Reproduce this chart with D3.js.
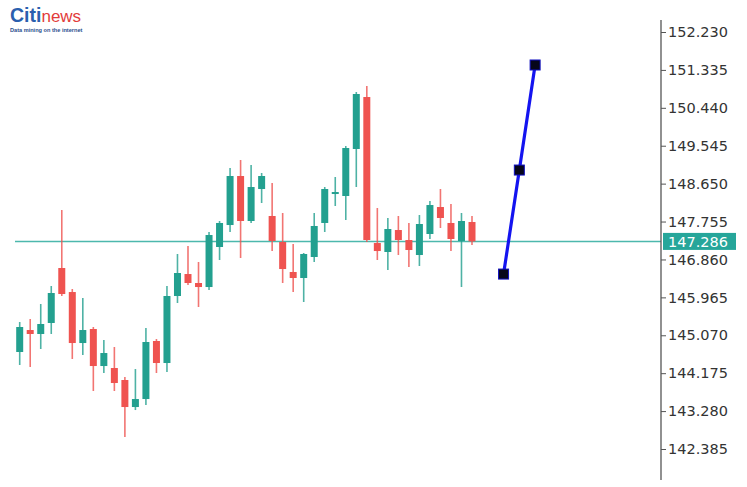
<!DOCTYPE html>
<html><head><meta charset="utf-8">
<script src="https://cdn.jsdelivr.net/npm/d3@7"></script>
<style>html,body{margin:0;padding:0;background:#fff;}svg{display:block;}</style>
</head><body>
<svg id="chart" width="747" height="487"></svg>
<script>
// Candle data (index order)
const opens  = [144.675,145.194,145.100,145.360,146.658,146.091,144.887,145.218,144.344,144.297,144.014,143.376,143.565,144.935,144.415,145.997,146.516,146.304,146.209,147.154,147.673,148.830,147.768,148.523,147.886,147.272,146.564,146.422,146.918,147.721,148.405,148.358,149.468,150.695,147.248,147.036,147.555,147.319,146.965,147.461,148.098,147.721,147.296,147.744];
const highs  = [145.383,145.454,145.808,146.233,148.027,146.162,145.950,145.265,144.958,144.793,144.085,144.273,145.241,144.982,146.233,146.989,147.177,146.800,147.508,147.768,149.019,149.208,149.090,148.901,148.665,147.957,147.225,147.012,147.957,148.570,148.807,149.538,150.813,150.955,148.075,147.839,147.886,147.721,147.909,148.240,148.523,148.169,147.957,147.886];
const lows   = [144.368,144.321,144.746,145.100,145.997,144.510,144.604,143.754,144.179,143.754,142.668,143.305,143.423,144.179,144.203,145.832,146.257,145.737,146.139,146.847,147.508,146.894,147.721,148.193,147.059,146.304,146.091,145.855,146.800,147.508,148.122,147.791,148.570,147.272,146.847,146.611,146.965,146.682,146.705,147.343,147.602,147.059,146.209,147.201];
const closes = [145.265,145.100,145.336,146.068,146.044,144.887,145.194,144.344,144.651,143.943,143.376,143.565,144.911,144.415,145.997,146.540,146.304,146.209,147.437,147.721,148.830,147.768,148.570,148.830,147.296,146.634,146.422,146.989,147.650,148.523,148.452,149.491,150.766,147.319,147.059,147.579,147.319,147.083,147.697,148.145,147.839,147.343,147.768,147.286];
// Forecast line
const forecastIdx = [46, 47.5, 49];
const forecastVal = [146.515, 148.971, 151.451];
// Axis
const tickValues = [152.230,151.335,150.440,149.545,148.650,147.755,146.860,145.965,145.070,144.175,143.280,142.385];
const currentPrice = 147.286;

const svg = d3.select('#chart');
const green = '#23a08f', red = '#ef5350';

const x = d3.scaleLinear().domain([0, 43]).range([19.7, 472]);
const y = d3.scaleLinear().domain([142.385, 152.230]).range([449, 32]);

const candles = opens.map((o,i)=>({i,o,h:highs[i],l:lows[i],c:closes[i]}));

// current price line
svg.append('line')
  .attr('x1', 15).attr('x2', 661)
  .attr('y1', y(currentPrice)).attr('y2', y(currentPrice))
  .attr('stroke', '#4cb8ad').attr('stroke-width', 1.5);

const g = svg.append('g');
g.selectAll('line.wick').data(candles).join('line')
  .attr('class','wick')
  .attr('x1', d=>x(d.i)).attr('x2', d=>x(d.i))
  .attr('y1', d=>y(d.h)).attr('y2', d=>y(d.l))
  .attr('stroke', d=>d.c>=d.o?green:red).attr('stroke-width', 1.6)
  .attr('opacity', 0.8);
const bw = 7;
g.selectAll('rect.body').data(candles).join('rect')
  .attr('class','body')
  .attr('x', d=>x(d.i)-bw/2).attr('width', bw)
  .attr('y', d=>y(Math.max(d.o,d.c)))
  .attr('height', d=>Math.max(1.5, Math.abs(y(d.o)-y(d.c))))
  .attr('fill', d=>d.c>=d.o?green:red);

// forecast
const fpts = forecastIdx.map((v,i)=>[x(v), y(forecastVal[i])]);
svg.append('path').attr('d', d3.line()(fpts))
  .attr('fill','none').attr('stroke','#1414f0').attr('stroke-width',3.2);
svg.selectAll('rect.fp').data(fpts).join('rect')
  .attr('class','fp')
  .attr('x', d=>d[0]-5).attr('y', d=>d[1]-5).attr('width',10).attr('height',10)
  .attr('fill','#06061a').attr('stroke','#1010c0').attr('stroke-width',1);

// axis
const axisX = 661;
svg.append('line').attr('x1',axisX).attr('x2',axisX).attr('y1',20).attr('y2',480)
  .attr('stroke','#555').attr('stroke-width',1.3);
const ax = svg.append('g').attr('transform',`translate(${axisX},0)`)
  .call(d3.axisRight(y).tickValues(tickValues).tickFormat(d3.format('.3f')).tickSize(5).tickPadding(2));
ax.select('.domain').remove();
ax.selectAll('.tick line').attr('stroke','#555');
ax.selectAll('.tick text').attr('fill','#333').style('font-family','DejaVu Sans, Verdana, sans-serif').style('font-size','14.5px');

// current price label
const lbl = svg.append('g').attr('transform',`translate(${axisX+2},${y(currentPrice)})`);
lbl.append('rect').attr('x',0).attr('y',-8.5).attr('width',73).attr('height',17).attr('fill','#26a69a');
lbl.append('text').attr('x',5).attr('y',0).attr('dy','0.36em').attr('fill','#fff')
  .style('font-family','DejaVu Sans, Verdana, sans-serif').style('font-size','14.5px').text(d3.format('.3f')(currentPrice));

// logo
const logo = svg.append('g');
const lt = logo.append('text').attr('x',10).attr('y',22).style('font-family','Liberation Sans, Arial, sans-serif');
lt.append('tspan').attr('fill','#2b5fae').style('font-weight','bold').style('font-size','19.5px').text('Citi');
lt.append('tspan').attr('fill','#e23b3b').style('font-size','17px').text('news');
logo.append('text').attr('x',10).attr('y',31.5).attr('fill','#2b4f8e')
  .style('font-family','Liberation Sans, Arial, sans-serif').style('font-size','5.6px').style('font-weight','bold')
  .text('Data mining on the internet');
</script>
</body></html>
